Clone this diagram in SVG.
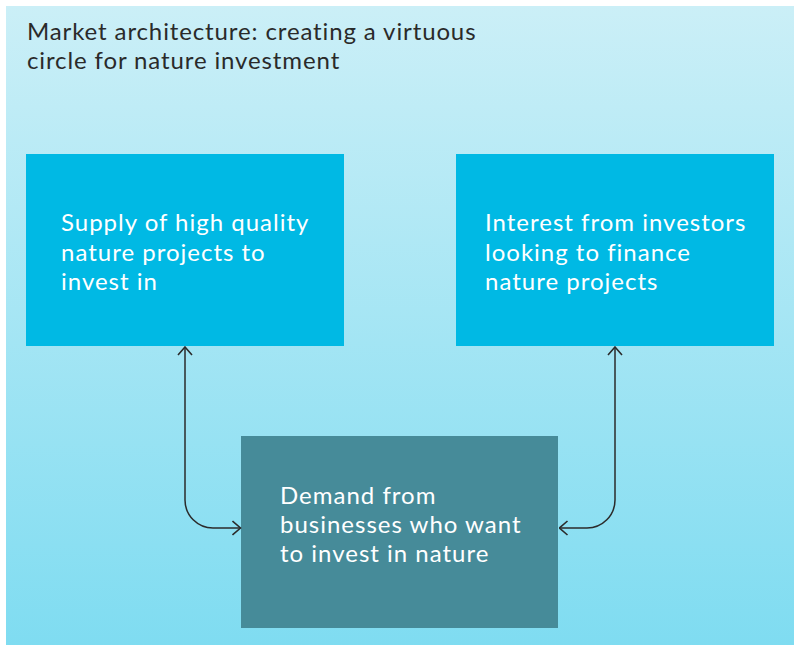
<svg xmlns="http://www.w3.org/2000/svg" width="797" height="645" viewBox="0 0 797 645">
  <defs>
    <linearGradient id="panelFill" x1="0" y1="0" x2="0" y2="1">
      <stop offset="0" stop-color="#cbeff7"/>
      <stop offset="1" stop-color="#7fdcf1"/>
    </linearGradient>
    <marker id="chevron" viewBox="0 0 10 16" refX="9" refY="8" markerWidth="10" markerHeight="16" markerUnits="userSpaceOnUse" orient="auto-start-reverse">
      <path d="M1,1 L9,8 L1,15" fill="none" stroke="#2b2b2b" stroke-width="1.6"/>
    </marker>
    <style>
      .title { font-family: Lato, "Open Sans", sans-serif; font-size: 24px; letter-spacing: 0.88px; fill: #2a2a2a; }
      .label { font-family: Lato, "Open Sans", sans-serif; font-size: 24px; letter-spacing: 1px; fill: #ffffff; }
      .box { fill: #00b9e4; }
      .box-dark { fill: #468b99; }
      .link { fill: none; stroke: #2b2b2b; stroke-width: 1.5; marker-start: url(#chevron); marker-end: url(#chevron); }
    </style>
  </defs>

  <rect x="0" y="0" width="797" height="645" fill="#ffffff"/>
  <rect x="6" y="6" width="788" height="639" fill="url(#panelFill)"/>

  <!-- heading, two lines -->
  <text class="title" x="27" y="40">Market architecture: creating a virtuous<tspan x="27" dy="29">circle for nature investment</tspan></text>

  <g id="supply">
    <rect class="box" x="26" y="154" width="318" height="192"/>
    <text class="label" x="61" y="231">Supply of high quality<tspan x="61" dy="29.5">nature projects to</tspan><tspan x="61" dy="29.5">invest in</tspan></text>
  </g>

  <g id="investors">
    <rect class="box" x="456" y="154" width="318" height="192"/>
    <text class="label" x="485" y="231">Interest from investors<tspan x="485" dy="29.5">looking to finance</tspan><tspan x="485" dy="29.5">nature projects</tspan></text>
  </g>

  <g id="demand">
    <rect class="box-dark" x="241" y="436" width="317" height="192"/>
    <text class="label" x="280" y="504">Demand from<tspan x="280" dy="29">businesses who want</tspan><tspan x="280" dy="29">to invest in nature</tspan></text>
  </g>

  <g id="connectors">
    <path class="link" d="M185,347 V500 A28,28 0 0 0 213,528 H240.5"/>
    <path class="link" d="M615,347 V500 A28,28 0 0 1 587,528 H559.5"/>
  </g>
</svg>
